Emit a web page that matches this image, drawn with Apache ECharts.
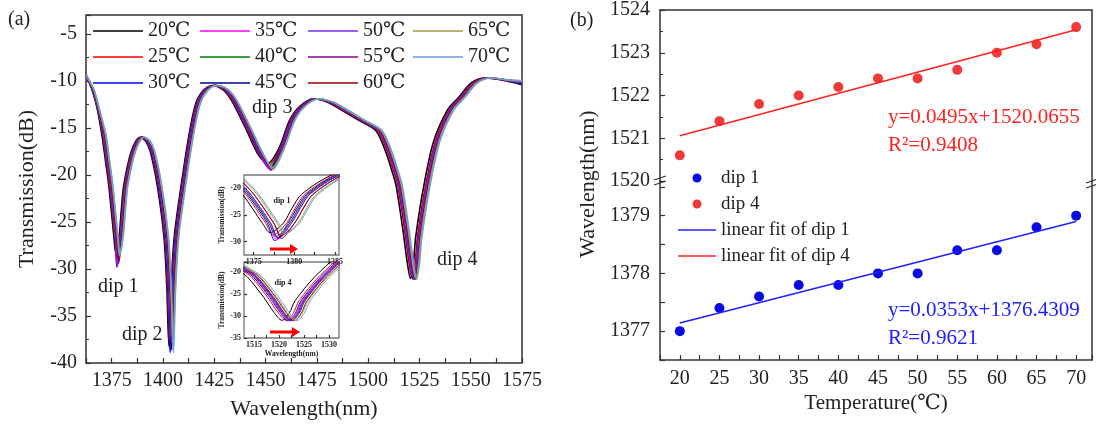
<!DOCTYPE html>
<html>
<head>
<meta charset="utf-8">
<script src="https://cdn.jsdelivr.net/npm/echarts@6/dist/echarts.min.js"></script>
<style>
  html, body { margin: 0; background: #fff; }
  #chart { width: 1096px; height: 430px; }
</style>
</head>
<body>
<div id="chart"></div>
<script>
// panel (a): transmission spectra, one [wavelength nm, dB] list per temperature
const t20 = [[1362.5,-9.4],[1365.5,-11.0],[1368.0,-13.0],[1370.2,-15.7],[1372.0,-18.5],[1373.6,-21.1],[1376.1,-26.6],[1377.0,-28.3],[1378.6,-26.6],[1379.8,-23.5],[1380.9,-21.1],[1384.6,-17.5],[1388.8,-16.0],[1391.5,-16.4],[1393.8,-17.5],[1397.2,-21.1],[1400.5,-26.6],[1401.9,-32.0],[1402.9,-38.2],[1404.0,-32.0],[1405.5,-26.6],[1408.9,-21.1],[1412.2,-16.4],[1415.6,-12.7],[1419.0,-11.2],[1424.0,-10.5],[1429.0,-10.9],[1433.2,-12.0],[1440.0,-14.9],[1446.6,-17.9],[1451.0,-18.8],[1456.7,-17.1],[1461.7,-14.2],[1466.7,-12.7],[1473.4,-11.9],[1480.5,-12.3],[1487.0,-13.1],[1495.5,-14.2],[1503.8,-15.3],[1508.5,-17.5],[1511.5,-19.5],[1513.6,-21.1],[1517.0,-25.9],[1519.0,-29.2],[1520.6,-31.0],[1522.0,-29.5],[1523.2,-26.6],[1527.2,-21.1],[1532.0,-16.4],[1538.7,-13.1],[1544.0,-11.8],[1550.4,-10.2],[1557.0,-9.7],[1565.0,-9.9],[1575.0,-10.4]];
const t25 = [[1362.5,-9.4],[1365.7,-11.0],[1368.2,-13.0],[1370.6,-15.7],[1372.4,-18.5],[1374.0,-21.1],[1376.5,-26.6],[1377.4,-28.8],[1379.0,-26.6],[1380.2,-23.5],[1381.3,-21.1],[1385.0,-17.5],[1389.2,-16.0],[1391.9,-16.4],[1394.2,-17.5],[1397.6,-21.1],[1400.9,-26.6],[1402.3,-32.0],[1403.3,-38.4],[1404.4,-32.0],[1405.9,-26.6],[1409.3,-21.1],[1412.6,-16.4],[1416.0,-12.7],[1419.4,-11.2],[1424.4,-10.5],[1429.5,-10.9],[1433.7,-12.0],[1440.5,-14.9],[1447.1,-17.9],[1451.5,-19.0],[1457.2,-17.1],[1462.2,-14.2],[1467.2,-12.7],[1473.9,-11.9],[1481.3,-12.3],[1487.8,-13.1],[1496.3,-14.2],[1504.6,-15.3],[1509.3,-17.5],[1512.3,-19.5],[1514.4,-21.1],[1517.8,-25.9],[1519.8,-29.2],[1521.4,-31.0],[1522.8,-29.5],[1524.0,-26.6],[1528.0,-21.1],[1532.8,-16.4],[1539.5,-13.1],[1544.8,-11.8],[1551.2,-10.2],[1557.8,-9.7],[1565.8,-9.9],[1575.0,-10.3]];
const t30 = [[1362.5,-9.4],[1365.8,-11.0],[1368.3,-13.0],[1370.8,-15.7],[1372.6,-18.5],[1374.2,-21.1],[1376.7,-26.6],[1377.6,-29.8],[1379.2,-26.6],[1380.4,-23.5],[1381.5,-21.1],[1385.2,-17.5],[1389.4,-16.0],[1392.1,-16.4],[1394.4,-17.5],[1397.8,-21.1],[1401.1,-26.6],[1402.5,-32.0],[1403.5,-38.9],[1404.6,-32.0],[1406.1,-26.6],[1409.5,-21.1],[1412.8,-16.4],[1416.2,-12.7],[1419.6,-11.2],[1424.6,-10.5],[1429.8,-10.9],[1434.0,-12.0],[1440.8,-14.9],[1447.4,-17.9],[1451.8,-19.3],[1457.5,-17.1],[1462.5,-14.2],[1467.5,-12.7],[1474.2,-11.9],[1481.7,-12.3],[1488.2,-13.1],[1496.7,-14.2],[1505.0,-15.3],[1509.7,-17.5],[1512.7,-19.5],[1514.8,-21.1],[1518.2,-25.9],[1520.2,-29.2],[1521.8,-31.1],[1523.2,-29.5],[1524.4,-26.6],[1528.4,-21.1],[1533.2,-16.4],[1539.9,-13.1],[1545.2,-11.8],[1551.6,-10.2],[1558.2,-9.7],[1566.2,-9.9],[1575.0,-10.3]];
const t35 = [[1362.5,-9.4],[1365.9,-11.0],[1368.4,-13.0],[1371.0,-15.7],[1372.8,-18.5],[1374.4,-21.1],[1376.9,-26.6],[1377.8,-29.6],[1379.4,-26.6],[1380.6,-23.5],[1381.7,-21.1],[1385.4,-17.5],[1389.6,-16.0],[1392.4,-16.4],[1394.7,-17.5],[1398.1,-21.1],[1401.4,-26.6],[1402.8,-32.0],[1403.8,-38.0],[1404.9,-32.0],[1406.4,-26.6],[1409.8,-21.1],[1413.1,-16.4],[1416.5,-12.7],[1419.9,-11.2],[1424.9,-10.5],[1430.1,-10.9],[1434.3,-12.0],[1441.1,-14.9],[1447.7,-17.9],[1452.1,-19.4],[1457.8,-17.1],[1462.8,-14.2],[1467.8,-12.7],[1474.5,-11.9],[1481.9,-12.3],[1488.4,-13.1],[1496.9,-14.2],[1505.2,-15.3],[1509.9,-17.5],[1512.9,-19.5],[1515.0,-21.1],[1518.4,-25.9],[1520.4,-29.2],[1522.0,-31.0],[1523.4,-29.5],[1524.6,-26.6],[1528.6,-21.1],[1533.4,-16.4],[1540.1,-13.1],[1545.4,-11.8],[1551.8,-10.2],[1558.4,-9.7],[1566.4,-9.9],[1575.0,-10.2]];
const t40 = [[1362.5,-9.4],[1365.9,-11.0],[1368.4,-13.0],[1371.0,-15.7],[1372.8,-18.5],[1374.4,-21.1],[1376.9,-26.6],[1377.8,-29.0],[1379.4,-26.6],[1380.6,-23.5],[1381.7,-21.1],[1385.4,-17.5],[1389.6,-16.0],[1392.5,-16.4],[1394.8,-17.5],[1398.2,-21.1],[1401.5,-26.6],[1402.9,-32.0],[1403.9,-38.3],[1405.0,-32.0],[1406.5,-26.6],[1409.9,-21.1],[1413.2,-16.4],[1416.6,-12.7],[1420.0,-11.2],[1425.0,-10.5],[1430.3,-10.9],[1434.5,-12.0],[1441.3,-14.9],[1447.9,-17.9],[1452.3,-19.2],[1458.0,-17.1],[1463.0,-14.2],[1468.0,-12.7],[1474.7,-11.9],[1482.1,-12.3],[1488.6,-13.1],[1497.1,-14.2],[1505.4,-15.3],[1510.1,-17.5],[1513.1,-19.5],[1515.2,-21.1],[1518.6,-25.9],[1520.6,-29.2],[1522.2,-31.0],[1523.6,-29.5],[1524.8,-26.6],[1528.8,-21.1],[1533.6,-16.4],[1540.3,-13.1],[1545.6,-11.8],[1552.0,-10.2],[1558.6,-9.7],[1566.6,-9.9],[1575.0,-10.2]];
const t45 = [[1362.5,-9.4],[1366.0,-11.0],[1368.5,-13.0],[1371.2,-15.7],[1373.0,-18.5],[1374.6,-21.1],[1377.1,-26.6],[1378.0,-29.3],[1379.6,-26.6],[1380.8,-23.5],[1381.9,-21.1],[1385.6,-17.5],[1389.8,-16.0],[1392.7,-16.4],[1395.0,-17.5],[1398.4,-21.1],[1401.7,-26.6],[1403.1,-32.0],[1404.1,-38.6],[1405.2,-32.0],[1406.7,-26.6],[1410.1,-21.1],[1413.4,-16.4],[1416.8,-12.7],[1420.2,-11.2],[1425.2,-10.5],[1430.5,-10.9],[1434.7,-12.0],[1441.5,-14.9],[1448.1,-17.9],[1452.5,-19.3],[1458.2,-17.1],[1463.2,-14.2],[1468.2,-12.7],[1474.9,-11.9],[1482.3,-12.3],[1488.8,-13.1],[1497.3,-14.2],[1505.6,-15.3],[1510.3,-17.5],[1513.3,-19.5],[1515.4,-21.1],[1518.8,-25.9],[1520.8,-29.2],[1522.4,-31.1],[1523.8,-29.5],[1525.0,-26.6],[1529.0,-21.1],[1533.8,-16.4],[1540.5,-13.1],[1545.8,-11.8],[1552.2,-10.2],[1558.8,-9.7],[1566.8,-9.9],[1575.0,-10.2]];
const t50 = [[1362.5,-9.4],[1366.0,-11.0],[1368.5,-13.0],[1371.2,-15.7],[1373.0,-18.5],[1374.6,-21.1],[1377.1,-26.6],[1378.0,-29.5],[1379.6,-26.6],[1380.8,-23.5],[1381.9,-21.1],[1385.6,-17.5],[1389.8,-16.0],[1392.8,-16.4],[1395.1,-17.5],[1398.5,-21.1],[1401.8,-26.6],[1403.2,-32.0],[1404.2,-37.8],[1405.3,-32.0],[1406.8,-26.6],[1410.2,-21.1],[1413.5,-16.4],[1416.9,-12.7],[1420.3,-11.2],[1425.3,-10.5],[1430.6,-10.9],[1434.8,-12.0],[1441.6,-14.9],[1448.2,-17.9],[1452.6,-19.5],[1458.3,-17.1],[1463.3,-14.2],[1468.3,-12.7],[1475.0,-11.9],[1482.3,-12.3],[1488.8,-13.1],[1497.3,-14.2],[1505.6,-15.3],[1510.3,-17.5],[1513.3,-19.5],[1515.4,-21.1],[1518.8,-25.9],[1520.8,-29.2],[1522.4,-31.0],[1523.8,-29.5],[1525.0,-26.6],[1529.0,-21.1],[1533.8,-16.4],[1540.5,-13.1],[1545.8,-11.8],[1552.2,-10.2],[1558.8,-9.7],[1566.8,-9.9],[1575.0,-10.2]];
const t55 = [[1362.5,-9.4],[1366.2,-11.0],[1368.7,-13.0],[1371.6,-15.7],[1373.4,-18.5],[1375.0,-21.1],[1377.5,-26.6],[1378.4,-29.4],[1380.0,-26.6],[1381.2,-23.5],[1382.3,-21.1],[1386.0,-17.5],[1390.2,-16.0],[1393.1,-16.4],[1395.4,-17.5],[1398.8,-21.1],[1402.1,-26.6],[1403.5,-32.0],[1404.5,-37.6],[1405.6,-32.0],[1407.1,-26.6],[1410.5,-21.1],[1413.8,-16.4],[1417.2,-12.7],[1420.6,-11.2],[1425.6,-10.5],[1430.9,-10.9],[1435.1,-12.0],[1441.9,-14.9],[1448.5,-17.9],[1452.9,-19.4],[1458.6,-17.1],[1463.6,-14.2],[1468.6,-12.7],[1475.3,-11.9],[1482.5,-12.3],[1489.0,-13.1],[1497.5,-14.2],[1505.8,-15.3],[1510.5,-17.5],[1513.5,-19.5],[1515.6,-21.1],[1519.0,-25.9],[1521.0,-29.2],[1522.6,-31.0],[1524.0,-29.5],[1525.2,-26.6],[1529.2,-21.1],[1534.0,-16.4],[1540.7,-13.1],[1546.0,-11.8],[1552.4,-10.2],[1559.0,-9.7],[1567.0,-9.9],[1575.0,-10.1]];
const t60 = [[1362.5,-9.4],[1366.2,-11.0],[1368.7,-13.0],[1371.6,-15.7],[1373.4,-18.5],[1375.0,-21.1],[1377.5,-26.6],[1378.4,-28.9],[1380.0,-26.6],[1381.2,-23.5],[1382.3,-21.1],[1386.0,-17.5],[1390.2,-16.0],[1393.2,-16.4],[1395.5,-17.5],[1398.9,-21.1],[1402.2,-26.6],[1403.6,-32.0],[1404.6,-38.0],[1405.7,-32.0],[1407.2,-26.6],[1410.6,-21.1],[1413.9,-16.4],[1417.3,-12.7],[1420.7,-11.2],[1425.7,-10.5],[1431.1,-10.9],[1435.3,-12.0],[1442.1,-14.9],[1448.7,-17.9],[1453.1,-19.3],[1458.8,-17.1],[1463.8,-14.2],[1468.8,-12.7],[1475.5,-11.9],[1482.9,-12.3],[1489.4,-13.1],[1497.9,-14.2],[1506.2,-15.3],[1510.9,-17.5],[1513.9,-19.5],[1516.0,-21.1],[1519.4,-25.9],[1521.4,-29.2],[1523.0,-31.1],[1524.4,-29.5],[1525.6,-26.6],[1529.6,-21.1],[1534.4,-16.4],[1541.1,-13.1],[1546.4,-11.8],[1552.8,-10.2],[1559.4,-9.7],[1567.4,-9.9],[1575.0,-10.1]];
const t65 = [[1362.5,-9.4],[1366.4,-11.0],[1368.9,-13.0],[1372.0,-15.7],[1373.8,-18.5],[1375.4,-21.1],[1377.9,-26.6],[1378.8,-28.6],[1380.4,-26.6],[1381.6,-23.5],[1382.7,-21.1],[1386.4,-17.5],[1390.6,-16.0],[1393.5,-16.4],[1395.8,-17.5],[1399.2,-21.1],[1402.5,-26.6],[1403.9,-32.0],[1404.9,-38.4],[1406.0,-32.0],[1407.5,-26.6],[1410.9,-21.1],[1414.2,-16.4],[1417.6,-12.7],[1421.0,-11.2],[1426.0,-10.5],[1431.4,-10.9],[1435.6,-12.0],[1442.4,-14.9],[1449.0,-17.9],[1453.4,-19.2],[1459.1,-17.1],[1464.1,-14.2],[1469.1,-12.7],[1475.8,-11.9],[1483.1,-12.3],[1489.6,-13.1],[1498.1,-14.2],[1506.4,-15.3],[1511.1,-17.5],[1514.1,-19.5],[1516.2,-21.1],[1519.6,-25.9],[1521.6,-29.2],[1523.2,-31.0],[1524.6,-29.5],[1525.8,-26.6],[1529.8,-21.1],[1534.6,-16.4],[1541.3,-13.1],[1546.6,-11.8],[1553.0,-10.2],[1559.6,-9.7],[1567.6,-9.9],[1575.0,-10.0]];
const t70 = [[1362.5,-9.4],[1366.5,-11.0],[1369.0,-13.0],[1372.2,-15.7],[1374.0,-18.5],[1375.6,-21.1],[1378.1,-26.6],[1379.0,-28.4],[1380.6,-26.6],[1381.8,-23.5],[1382.9,-21.1],[1386.6,-17.5],[1390.8,-16.0],[1393.7,-16.4],[1396.0,-17.5],[1399.4,-21.1],[1402.7,-26.6],[1404.1,-32.0],[1405.1,-38.9],[1406.2,-32.0],[1407.7,-26.6],[1411.1,-21.1],[1414.4,-16.4],[1417.8,-12.7],[1421.2,-11.2],[1426.2,-10.5],[1431.6,-10.9],[1435.8,-12.0],[1442.6,-14.9],[1449.2,-17.9],[1453.6,-19.4],[1459.3,-17.1],[1464.3,-14.2],[1469.3,-12.7],[1476.0,-11.9],[1483.5,-12.3],[1490.0,-13.1],[1498.5,-14.2],[1506.8,-15.3],[1511.5,-17.5],[1514.5,-19.5],[1516.6,-21.1],[1520.0,-25.9],[1522.0,-29.2],[1523.6,-31.1],[1525.0,-29.5],[1526.2,-26.6],[1530.2,-21.1],[1535.0,-16.4],[1541.7,-13.1],[1547.0,-11.8],[1553.4,-10.2],[1560.0,-9.7],[1568.0,-9.9],[1575.0,-10.0]];

const spectra = [t20, t25, t30, t35, t40, t45, t50, t55, t60, t65, t70];
const tempLabels = ['20℃', '25℃', '30℃', '35℃', '40℃', '45℃', '50℃', '55℃', '60℃', '65℃', '70℃'];
const tempColors = ['#000000', '#ff0000', '#0000ff', '#ff00ff', '#008000', '#000090', '#7a2cff', '#8b008b', '#990000', '#a0a040', '#6a9fd4'];

// panel (b): dip wavelength vs temperature
const temperature = [20, 25, 30, 35, 40, 45, 50, 55, 60, 65, 70];
const dip1 = [1377.0, 1377.4, 1377.6, 1377.8, 1377.8, 1378.0, 1378.0, 1378.4, 1378.4, 1378.8, 1379.0];
const dip4 = [1520.6, 1521.4, 1521.8, 1522.0, 1522.2, 1522.4, 1522.4, 1522.6, 1523.0, 1523.2, 1523.6];
const fitTemp = [20, 70];
const fitDip1 = [1377.14, 1378.90];
const fitDip4 = [1521.06, 1523.54];

const FONT = '"Liberation Serif", "Times New Roman", "DejaVu Serif", serif';
const INK = '#222';
const AXIS = '#333';
const LINE_ICON_A = 'path://M0,0L50,0L50,1.6L0,1.6Z';
const LINE_ICON_B = 'path://M0,0L38,0L38,1.4L0,1.4Z';

const chart = echarts.init(document.getElementById('chart'));

// main spectra + the two zoomed insets (same curves, clipped)
const series = [];
spectra.forEach((d, i) => {
  [0, 1, 2].forEach(g => {
    series.push({
      type: 'line', name: tempLabels[i], xAxisIndex: g, yAxisIndex: g,
      data: d, symbol: 'none', smooth: 0.3, clip: true,
      lineStyle: { color: tempColors[i], width: g === 0 ? 1.6 : 1 },
      itemStyle: { color: tempColors[i] }
    });
  });
});
series.push(
  { type: 'scatter', name: 'dip 4', xAxisIndex: 3, yAxisIndex: 3, symbolSize: 10,
    itemStyle: { color: '#f03a3a', opacity: 1 }, data: temperature.map((t, i) => [t, dip4[i]]) },
  { type: 'line', name: 'linear fit of dip 4', xAxisIndex: 3, yAxisIndex: 3, symbol: 'none',
    lineStyle: { color: '#ff2020', width: 1.5 }, itemStyle: { color: '#ff2020' },
    data: fitTemp.map((t, i) => [t, fitDip4[i]]) },
  { type: 'scatter', name: 'dip 1', xAxisIndex: 4, yAxisIndex: 5, symbolSize: 10,
    itemStyle: { color: '#0a0ae6', opacity: 1 }, data: temperature.map((t, i) => [t, dip1[i]]) },
  { type: 'line', name: 'linear fit of dip 1', xAxisIndex: 4, yAxisIndex: 5, symbol: 'none',
    lineStyle: { color: '#2020ff', width: 1.5 }, itemStyle: { color: '#2020ff' },
    data: fitTemp.map((t, i) => [t, fitDip1[i]]) }
);

const plain = v => String(v);
const tick = (len) => ({ show: true, inside: true, length: len, lineStyle: { color: AXIS, width: 1.2 } });
const lbl = (size, extra) => Object.assign({ fontSize: size, color: INK, fontFamily: FONT, formatter: plain }, extra || {});
const legendCol = (names, left) => ({
  data: names.map(n => ({ name: n, icon: LINE_ICON_A })),
  orient: 'vertical', left: left, top: 21, padding: 0,
  itemWidth: 50, itemHeight: 14, itemGap: 6, selectedMode: false,
  textStyle: { fontSize: 20, lineHeight: 20, color: INK, fontFamily: FONT }
});

const txt = (x, y, text, size, opts) => Object.assign({
  type: 'text', x: x, y: y, silent: true,
  style: Object.assign({ text: text, fill: INK, font: size + 'px ' + FONT, align: 'left', verticalAlign: 'middle' },
    opts && opts.style || {})
}, opts && opts.el || {});

const arrow = (x0, x1, y) => ({
  type: 'group', silent: true, children: [
    { type: 'line', shape: { x1: x0, y1: y, x2: x1 - 6, y2: y }, style: { stroke: '#ff0000', lineWidth: 3 } },
    { type: 'polygon', shape: { points: [[x1 - 8, y - 5], [x1, y], [x1 - 8, y + 5]] }, style: { fill: '#ff0000' } }
  ]
});

const brk = (x, y) => ({
  type: 'group', silent: true, children: [
    { type: 'rect', shape: { x: x - 3, y: y - 2, width: 6, height: 4 }, style: { fill: '#fff' } },
    { type: 'line', shape: { x1: x - 6, y1: y - 1, x2: x + 6, y2: y - 5 }, style: { stroke: AXIS, lineWidth: 1.3 } },
    { type: 'line', shape: { x1: x - 6, y1: y + 4, x2: x + 6, y2: y }, style: { stroke: AXIS, lineWidth: 1.3 } }
  ]
});

chart.setOption({
  animation: false,
  backgroundColor: '#fff',
  textStyle: { fontFamily: FONT, color: INK },
  grid: [
    { left: 86, top: 15, width: 436, height: 348, show: true, borderColor: AXIS, borderWidth: 1.5 },
    { left: 244, top: 175, width: 95, height: 80, show: true, borderColor: '#777', borderWidth: 1.3 },
    { left: 244, top: 262, width: 95, height: 76, show: true, borderColor: '#777', borderWidth: 1.3 },
    { left: 660, top: 8, width: 432, height: 173 },
    { left: 660, top: 181, width: 432, height: 179 }
  ],
  xAxis: [
    { gridIndex: 0, type: 'value', min: 1362.5, max: 1575, interval: 12.5,
      axisLine: { show: false }, axisTick: tick(5), splitLine: { show: false },
      axisLabel: lbl(20, { margin: 8, formatter: v => (v % 25 === 0 ? String(v) : '') }),
      name: 'Wavelength(nm)', nameLocation: 'middle', nameGap: 35,
      nameTextStyle: { fontSize: 22, color: INK, fontFamily: FONT } },
    { gridIndex: 1, type: 'value', min: 1373.8, max: 1385.5,
      axisLine: { show: false }, splitLine: { show: false },
      axisTick: Object.assign(tick(3), { customValues: [1375, 1377.5, 1380, 1382.5, 1385] }),
      axisLabel: lbl(8, { fontWeight: 'bold', margin: 3, customValues: [1375, 1380, 1385] }) },
    { gridIndex: 2, type: 'value', min: 1513, max: 1532,
      axisLine: { show: false }, splitLine: { show: false },
      axisTick: Object.assign(tick(3), { customValues: [1515, 1517.5, 1520, 1522.5, 1525, 1527.5, 1530] }),
      axisLabel: lbl(8, { fontWeight: 'bold', margin: 3, customValues: [1515, 1520, 1525, 1530] }),
      name: 'Wavelength(nm)', nameLocation: 'middle', nameGap: 11,
      nameTextStyle: { fontSize: 7.5, fontWeight: 'bold', color: INK, fontFamily: FONT } },
    { gridIndex: 3, type: 'value', min: 17.5, max: 72, position: 'top',
      axisLine: { show: true, lineStyle: { color: AXIS, width: 1.5 } },
      axisTick: { show: false }, axisLabel: { show: false }, splitLine: { show: false } },
    { gridIndex: 4, type: 'value', min: 17.5, max: 72, interval: 2.5,
      axisLine: { show: true, lineStyle: { color: AXIS, width: 1.5 } },
      axisTick: tick(5), splitLine: { show: false },
      axisLabel: lbl(20, { margin: 9, formatter: v => (v % 5 === 0 ? String(v) : '') }),
      name: 'Temperature(℃)', nameLocation: 'middle', nameGap: 33,
      nameTextStyle: { fontSize: 21, color: INK, fontFamily: FONT } }
  ],
  yAxis: [
    { gridIndex: 0, type: 'value', min: -40, max: -3, interval: 5,
      axisLine: { show: false }, axisTick: tick(5), splitLine: { show: false },
      minorTick: { show: true, splitNumber: 2, length: 3, lineStyle: { color: AXIS } },
      axisLabel: lbl(20, { margin: 9, formatter: v => (v % 5 === 0 ? String(v) : '') }),
      name: 'Transmission(dB)', nameLocation: 'middle', nameGap: 48,
      nameTextStyle: { fontSize: 22, color: INK, fontFamily: FONT } },
    { gridIndex: 1, type: 'value', min: -32.5, max: -17.5,
      axisLine: { show: false }, splitLine: { show: false },
      axisTick: Object.assign(tick(3), { customValues: [-30, -25, -20] }),
      axisLabel: lbl(8, { fontWeight: 'bold', margin: 3, customValues: [-30, -25, -20] }),
      name: 'Transmission(dB)', nameLocation: 'middle', nameGap: 16,
      nameTextStyle: { fontSize: 7.5, fontWeight: 'bold', color: INK, fontFamily: FONT } },
    { gridIndex: 2, type: 'value', min: -35, max: -17.8, interval: 5,
      axisLine: { show: false }, splitLine: { show: false }, axisTick: tick(3),
      axisLabel: lbl(8, { fontWeight: 'bold', margin: 3, formatter: v => (v % 5 === 0 ? String(v) : '') }),
      name: 'Transmission(dB)', nameLocation: 'middle', nameGap: 16,
      nameTextStyle: { fontSize: 7.5, fontWeight: 'bold', color: INK, fontFamily: FONT } },
    { gridIndex: 3, type: 'value', min: 1520, max: 1524, interval: 1,
      axisLine: { show: true, lineStyle: { color: AXIS, width: 1.5 } },
      axisTick: tick(5), splitLine: { show: false },
      minorTick: { show: true, splitNumber: 2, length: 3, lineStyle: { color: AXIS } },
      axisLabel: lbl(20, { margin: 10 }) },
    { gridIndex: 3, type: 'value', min: 1520, max: 1524, position: 'right',
      axisLine: { show: true, lineStyle: { color: AXIS, width: 1.5 } },
      axisTick: { show: false }, axisLabel: { show: false }, splitLine: { show: false } },
    { gridIndex: 4, type: 'value', min: 1376.5, max: 1379.6, interval: 0.5,
      axisLine: { show: true, lineStyle: { color: AXIS, width: 1.5 } },
      axisTick: tick(5), splitLine: { show: false },
      axisLabel: lbl(20, { margin: 10, formatter: v => (Math.abs(v - Math.round(v)) < 1e-6 ? String(v) : '') }) },
    { gridIndex: 4, type: 'value', min: 1376.5, max: 1379.6, position: 'right',
      axisLine: { show: true, lineStyle: { color: AXIS, width: 1.5 } },
      axisTick: { show: false }, axisLabel: { show: false }, splitLine: { show: false } }
  ],
  legend: [
    legendCol(['20℃', '25℃', '30℃'], 93),
    legendCol(['35℃', '40℃', '45℃'], 200),
    legendCol(['50℃', '55℃', '60℃'], 308),
    legendCol(['65℃', '70℃'], 413),
    { data: [
        { name: 'dip 1', icon: 'circle' },
        { name: 'dip 4', icon: 'circle' },
        { name: 'linear fit of dip 1', icon: LINE_ICON_B },
        { name: 'linear fit of dip 4', icon: LINE_ICON_B }
      ],
      orient: 'vertical', left: 678, top: 168, padding: 0,
      itemWidth: 38, itemHeight: 9, itemGap: 6, selectedMode: false,
      textStyle: { fontSize: 19, lineHeight: 20, color: INK, fontFamily: FONT } }
  ],
  series: series,
  graphic: [
    txt(8, 20, '(a)', 20),
    txt(570, 21, '(b)', 20),
    txt(98, 287, 'dip 1', 20),
    txt(122, 335, 'dip 2', 20),
    txt(252, 108, 'dip 3', 20),
    txt(437, 260, 'dip 4', 20),
    txt(282, 201, 'dip 1', 8, { style: { align: 'center', font: 'bold 8px ' + FONT } }),
    txt(283, 283, 'dip 4', 8, { style: { align: 'center', font: 'bold 8px ' + FONT } }),
    arrow(270, 298, 249),
    arrow(270, 300, 332),
    txt(888, 117, 'y=0.0495x+1520.0655', 21, { style: { fill: '#ff2020' } }),
    txt(888, 145, 'R²=0.9408', 21, { style: { fill: '#ff2020' } }),
    txt(888, 310, 'y=0.0353x+1376.4309', 21, { style: { fill: '#2020ff' } }),
    txt(888, 338, 'R²=0.9621', 21, { style: { fill: '#2020ff' } }),
    txt(588, 184, 'Wavelength(nm)', 22, { style: { align: 'center' }, el: { rotation: Math.PI / 2 } }),
    brk(660, 181),
    brk(1092, 184)
  ]
});
</script>
</body>
</html>
